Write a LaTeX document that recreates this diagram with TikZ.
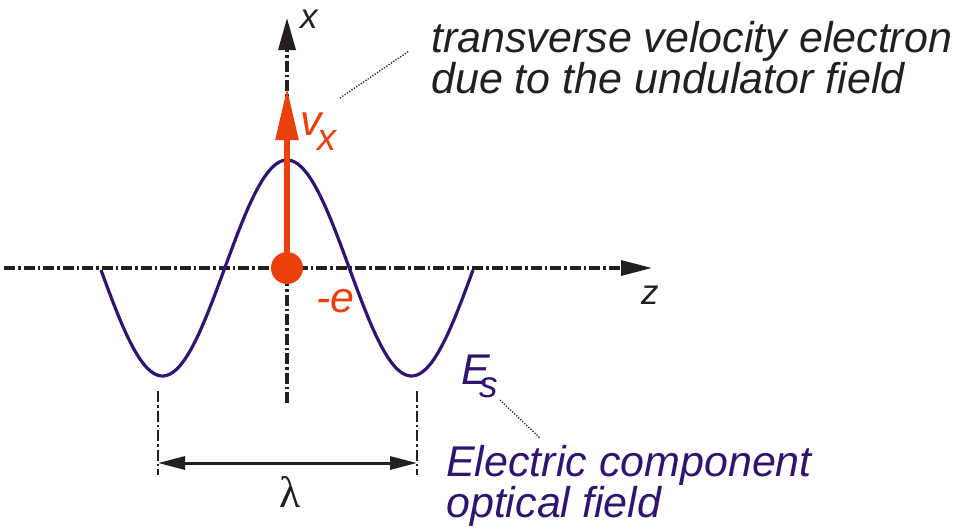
\documentclass[tikz,border=0pt]{standalone}
\usepackage{fontspec}
\setmainfont{Liberation Sans}
\newfontfamily\greekserif{Liberation Serif}
\usetikzlibrary{arrows.meta}
\definecolor{elorange}{RGB}{234,64,12}
\definecolor{fieldpurple}{RGB}{48,20,112}
\definecolor{inkdark}{RGB}{35,31,32}
\tikzset{
  axisline/.style={draw=inkdark, line width=3.4pt, dash pattern=on 11pt off 3pt on 2.5pt off 3pt},
  guideline/.style={draw=inkdark, line width=2.8pt, dash pattern=on 11pt off 3pt on 2.5pt off 3pt},
  leader/.style={draw=inkdark, line width=1.4pt, dash pattern=on 1.2pt off 1.6pt},
  lbl/.style={inner sep=0pt, font=\itshape\fontsize{43}{41}\selectfont, align=left},
}
\begin{document}
\begin{tikzpicture}[x=1pt,y=-1pt]
\useasboundingbox (0,0) rectangle (961,531);
% coordinates
\coordinate (zL) at (4,268);
\coordinate (zR) at (652,268);
\coordinate (xB) at (287,403);
\coordinate (xT) at (287,18);
\coordinate (vtip) at (287,88);
\coordinate (gLt) at (158,391);
\coordinate (gLb) at (158,475);
\coordinate (gRt) at (417,391);
\coordinate (gRb) at (417,475);
\coordinate (lamL) at (158,463);
\coordinate (lamR) at (417,463);
\coordinate (ldA) at (340,98);
\coordinate (ldB) at (409,51);
\coordinate (ldC) at (500,400);
\coordinate (ldD) at (540,438);
% axes
\draw[axisline, -{Triangle[length=31pt,width=15pt]}] (zL) -- (zR);
\draw[axisline, -{Triangle[length=32pt,width=17pt]}] (xB) -- (xT);
% guides and wavelength
\draw[guideline] (gLt) -- (gLb);
\draw[guideline] (gRt) -- (gRb);
\draw[draw=inkdark, line width=3pt, {Triangle[length=27pt,width=13pt]}-{Triangle[length=27pt,width=13pt]}] (lamL) -- (lamR);
% optical field curve
\draw[fieldpurple, line width=3.2pt, line join=round] plot[domain=101:473, samples=120, smooth] ({\x},{268-108*cos(1.44578*(\x-287))});
% electron and velocity
\node[circle, fill=elorange, minimum size=32pt, inner sep=0pt] (el) at (287,268) {};
\draw[elorange, line width=5.5pt, -{Triangle[length=52pt,width=22pt]}] (el.center) -- (vtip);
% leaders
\draw[leader] (ldA) -- (ldB);
\draw[leader] (ldC) -- (ldD);
% labels
\node[lbl, anchor=base west, text=inkdark, font=\itshape\fontsize{35}{35}\selectfont] (xlab) at (300,28) {x};
\node[lbl, anchor=base west, text=inkdark, font=\itshape\fontsize{35}{35}\selectfont] (zlab) at (641,304) {z};
\node[lbl, anchor=base west, text=elorange] (vlab) at (300,135) {v\kern-4pt\raisebox{-15pt}{\fontsize{38}{38}\selectfont x}};
\node[lbl, anchor=base west, text=elorange] (elab) at (316,312) {-e};
\node[lbl, anchor=base west, text=fieldpurple] (Elab) at (461,384) {E\kern-10pt\raisebox{-13pt}{\fontsize{37}{37}\selectfont s}};
\node[inner sep=0pt, anchor=base, text=inkdark, font=\greekserif\fontsize{44}{44}\selectfont] (lam) at (290,507) {λ};
\node[lbl, anchor=base west, text=inkdark] (topnote) at (431,93) {transverse velocity electron\\due to the undulator field};
\node[lbl, anchor=base west, text=fieldpurple] (botnote) at (446,517) {Electric component\\optical field};
\end{tikzpicture}
\end{document}
